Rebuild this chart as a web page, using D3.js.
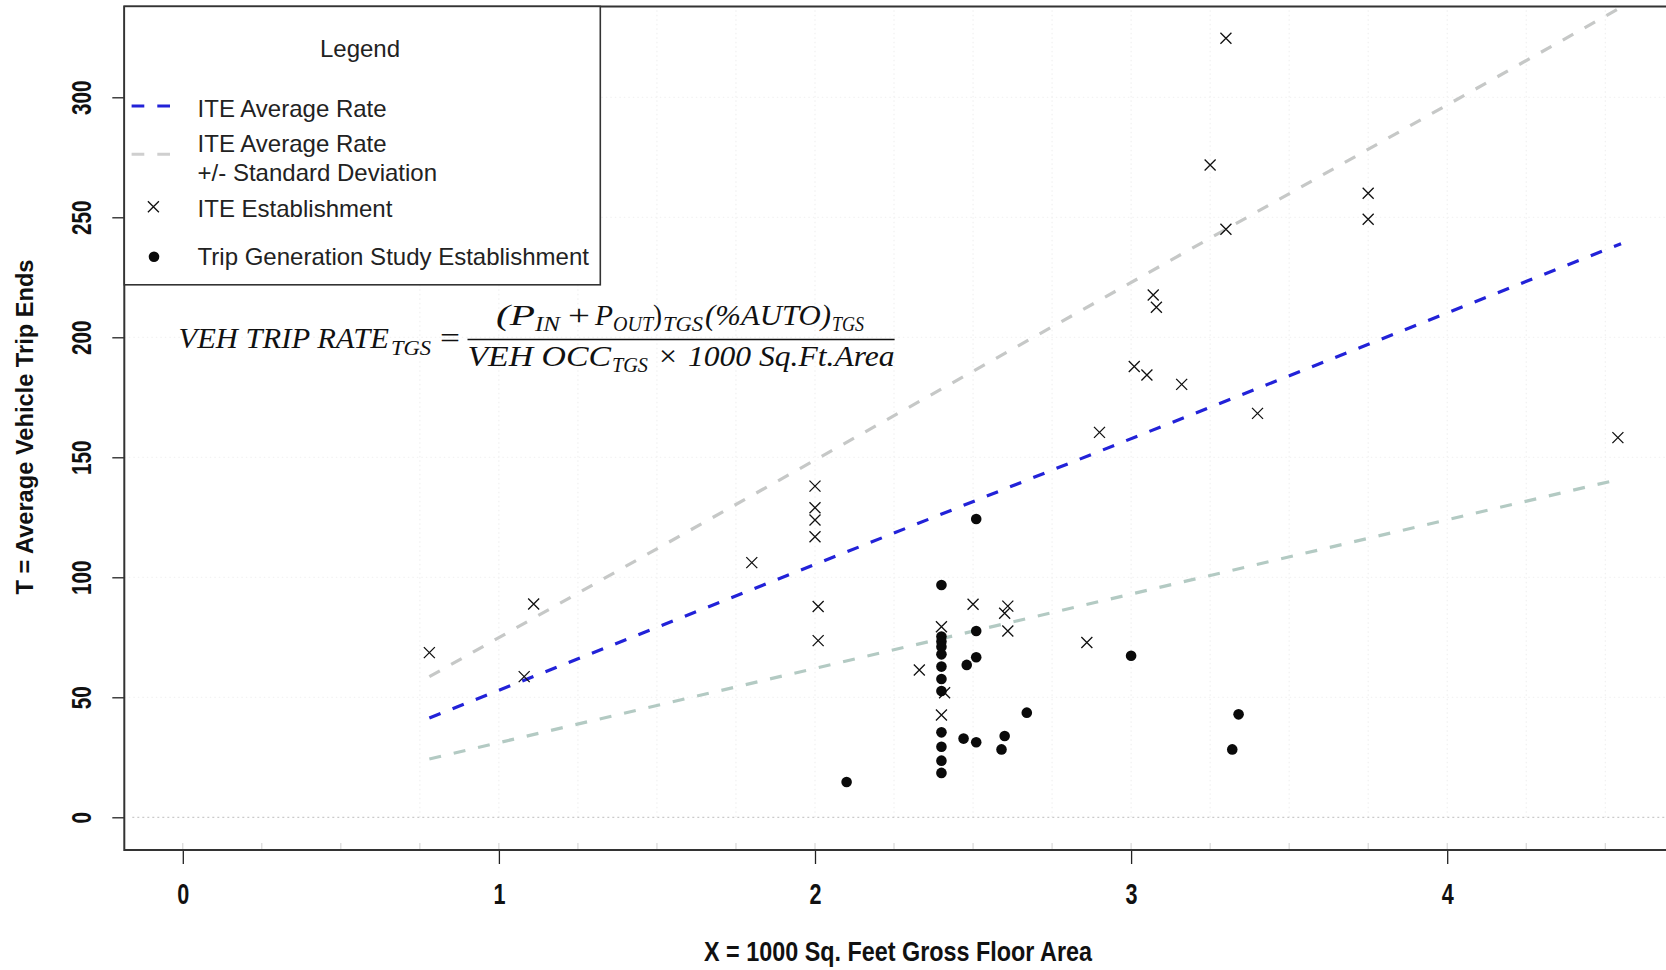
<!DOCTYPE html>
<html>
<head>
<meta charset="utf-8">
<script src="https://cdn.jsdelivr.net/npm/d3@7"></script>
<style>
  html, body { margin: 0; padding: 0; background: #fff; }
  svg { display: block; }
  text { font-family: "Liberation Sans", Arial, sans-serif; fill: #111; }
</style>
</head>
<body>
<svg id="chart"></svg>
<script>
// ITE establishments (x marks): area in 1000 sq ft, average vehicle trip ends
const iteArea  = [0.78, 1.08, 1.11, 1.80, 2.00, 2.00, 2.00, 2.00, 2.01, 2.01, 2.33, 2.40, 2.41, 2.40, 2.50, 2.61,
                  2.60, 2.61, 2.86, 2.90, 3.01, 3.05, 3.07, 3.08, 3.16, 3.25, 3.30, 3.30, 3.40, 3.75, 3.75, 4.54];
const iteTrips = [68.6, 58.6, 88.9, 106.1, 138.0, 129.0, 123.9, 116.9, 87.8, 73.6, 61.4, 79.4, 51.9, 42.6, 88.8, 88.0,
                  85.0, 77.6, 72.8, 160.4, 187.8, 184.3, 217.6, 212.5, 180.4, 271.8, 324.6, 245.0, 168.3, 260.0, 249.2, 158.2];

// Trip Generation Study establishments (filled dots)
const tgsArea  = [2.10, 2.40, 2.40, 2.40, 2.40, 2.40, 2.40, 2.40, 2.40, 2.40, 2.40, 2.40, 2.40,
                  2.51, 2.48, 2.51, 2.51, 2.67, 2.47, 2.51, 2.60, 2.59, 3.00, 3.34, 3.32];
const tgsTrips = [14.7, 96.8, 75.3, 73.2, 71.1, 67.9, 62.8, 57.6, 52.6, 35.4, 29.4, 23.6, 18.5,
                  124.3, 63.5, 66.7, 77.6, 43.6, 32.8, 31.3, 33.9, 28.3, 67.3, 42.9, 28.3];

// ITE average rate line and +/- standard deviation lines (ends)
const lineArea   = [0.78, 4.55];
const avgTrips   = [41.4, 239.0];
const upperTrips = [58.6, 337.5];
const lowerTrips = [24.3, 141.0];

const xTicks = [0, 1, 2, 3, 4];
const yTicks = [0, 50, 100, 150, 200, 250, 300];
const xMinorTicks = d3.range(0, 4.76, 0.25);
const yGrid = [50, 100, 150, 200, 250, 300];

const width = 1666, height = 970;
const plotLeft = 124.3, plotTop = 6.4, plotBottom = 850;

const svg = d3.select("#chart").attr("width", width).attr("height", height);

const x = d3.scaleLinear().domain([0, 4]).range([182.8, 1447.2]);
const y = d3.scaleLinear().domain([0, 300]).range([817.3, 97.3]);

svg.append("defs").append("clipPath").attr("id", "plotclip")
  .append("rect").attr("x", plotLeft).attr("y", plotTop)
  .attr("width", width - plotLeft).attr("height", plotBottom - plotTop);

// faint dotted grid
const grid = svg.append("g").attr("clip-path", "url(#plotclip)");
grid.selectAll(".vgrid")
  .data(xMinorTicks.filter(d => d > 0.5))
  .enter().append("line")
  .attr("x1", d => x(d)).attr("x2", d => x(d))
  .attr("y1", y(340)).attr("y2", y(0))
  .style("stroke", "#ededed").style("stroke-dasharray", "1.5,3");
grid.selectAll(".hgrid")
  .data(yGrid)
  .enter().append("line")
  .attr("x1", plotLeft).attr("x2", width)
  .attr("y1", d => y(d)).attr("y2", d => y(d))
  .style("stroke", "#f0f0f0").style("stroke-dasharray", "1.5,3");
grid.append("line")
  .attr("x1", plotLeft + 8).attr("x2", width)
  .attr("y1", y(0)).attr("y2", y(0))
  .style("stroke", "#bdbdbd").style("stroke-dasharray", "2,3");

// rate lines
const line = d3.line().x(d => x(d[0])).y(d => y(d[1]));
const rateLines = [
  { ys: upperTrips, color: "#c6c8c7" },
  { ys: lowerTrips, color: "#b3cac3" },
  { ys: avgTrips,   color: "#2222d8" }
];
svg.append("g").attr("clip-path", "url(#plotclip)")
  .selectAll("path")
  .data(rateLines)
  .enter().append("path")
  .attr("d", d => line(lineArea.map((a, i) => [a, d.ys[i]])))
  .style("fill", "none")
  .style("stroke", d => d.color)
  .style("stroke-width", 3.2)
  .style("stroke-dasharray", "12,13");

// ITE points (x marks)
const crossPath = s => `M${-s},${-s}L${s},${s}M${-s},${s}L${s},${-s}`;
svg.append("g").selectAll("path")
  .data(iteArea.map((a, i) => [a, iteTrips[i]]))
  .enter().append("path")
  .attr("transform", d => `translate(${x(d[0])},${y(d[1])})`)
  .attr("d", crossPath(5.5))
  .style("stroke", "#111").style("stroke-width", 1.3).style("fill", "none");

// TGS points (dots)
svg.append("g").selectAll("circle")
  .data(tgsArea.map((a, i) => [a, tgsTrips[i]]))
  .enter().append("circle")
  .attr("cx", d => x(d[0])).attr("cy", d => y(d[1]))
  .attr("r", 5.3)
  .style("fill", "#0a0a0a");

// condense a text node along its own direction
function condense(sel, k) {
  sel.each(function () {
    const len = this.getComputedTextLength();
    d3.select(this).attr("textLength", len * k).attr("lengthAdjust", "spacingAndGlyphs");
  });
}

// axes
const xAxis = svg.append("g")
  .attr("transform", `translate(0,${plotBottom})`)
  .call(d3.axisBottom(x).tickValues(xTicks).tickFormat(d3.format("d")).tickSize(14).tickSizeOuter(0).tickPadding(19));
xAxis.select(".domain").remove();
xAxis.selectAll(".tick line").style("stroke", "#222").style("stroke-width", 1.3);
xAxis.selectAll(".tick text")
  .style("font-size", "30px").style("font-weight", "bold").style("fill", "#111")
  .call(condense, 0.72);

const yAxis = svg.append("g")
  .attr("transform", `translate(${plotLeft},0)`)
  .call(d3.axisLeft(y).tickValues(yTicks).tickSize(12).tickSizeOuter(0));
yAxis.select(".domain").remove();
yAxis.selectAll(".tick line").style("stroke", "#222").style("stroke-width", 1.3);
yAxis.selectAll(".tick text")
  .attr("x", 0).attr("y", 0).attr("dy", null)
  .attr("text-anchor", "middle")
  .attr("transform", "translate(-33,0) rotate(-90)")
  .style("font-size", "28px").style("font-weight", "bold").style("fill", "#111")
  .call(condense, 0.74);

// minor ticks inside the bottom axis
svg.append("g").selectAll("line")
  .data(xMinorTicks)
  .enter().append("line")
  .attr("x1", d => x(d)).attr("x2", d => x(d))
  .attr("y1", plotBottom - 7).attr("y2", plotBottom)
  .style("stroke", "#d0d0d0").style("stroke-width", 1);

// frame (right side is cut off in the original)
svg.append("path")
  .attr("d", `M${width + 5},${plotTop}H${plotLeft}V${plotBottom}H${width + 5}`)
  .style("stroke", "#333").style("stroke-width", 2).style("fill", "none");

// axis titles
svg.append("text")
  .attr("x", 898).attr("y", 961)
  .attr("text-anchor", "middle")
  .attr("textLength", 388).attr("lengthAdjust", "spacingAndGlyphs")
  .style("font-size", "28px").style("font-weight", "bold")
  .text("X = 1000 Sq. Feet Gross Floor Area");

svg.append("text")
  .attr("transform", "translate(32.5,427) rotate(-90)")
  .attr("text-anchor", "middle")
  .attr("textLength", 335).attr("lengthAdjust", "spacingAndGlyphs")
  .style("font-size", "24px").style("font-weight", "bold")
  .text("T = Average Vehicle Trip Ends");

// legend
const legend = svg.append("g");
legend.append("rect")
  .attr("x", plotLeft).attr("y", plotTop).attr("width", 600.3 - plotLeft).attr("height", 284.8 - plotTop)
  .style("fill", "#fff").style("stroke", "#333").style("stroke-width", 1.6);
legend.append("text").attr("x", 360).attr("y", 56.7).attr("text-anchor", "middle")
  .style("font-size", "24px").style("fill", "#222").text("Legend");

const legendRows = [
  { lines: ["ITE Average Rate"], base: 116.7 },
  { lines: ["ITE Average Rate", "+/- Standard Deviation"], base: 151.7 },
  { lines: ["ITE Establishment"], base: 216.7 },
  { lines: ["Trip Generation Study Establishment"], base: 265 }
];
legendRows.forEach(r => {
  r.lines.forEach((t, j) => {
    legend.append("text").attr("x", 197.6).attr("y", r.base + j * 29.3)
      .style("font-size", "24px").style("fill", "#222").text(t);
  });
});
legend.append("line").attr("x1", 131.6).attr("x2", 170).attr("y1", 106).attr("y2", 106)
  .style("stroke", "#2222d8").style("stroke-width", 3).style("stroke-dasharray", "12.7,13");
legend.append("line").attr("x1", 131.6).attr("x2", 170).attr("y1", 154.3).attr("y2", 154.3)
  .style("stroke", "#cfcfcf").style("stroke-width", 3).style("stroke-dasharray", "12.7,13");
legend.append("path").attr("transform", "translate(153.4,206.7)").attr("d", crossPath(5.5))
  .style("stroke", "#111").style("stroke-width", 1.3).style("fill", "none");
legend.append("circle").attr("cx", 154).attr("cy", 256.7).attr("r", 5.3).style("fill", "#0a0a0a");

// trip rate formula
const formula = svg.append("g");
const serif = '"Liberation Serif", "DejaVu Serif", serif';
function piece(t, x0, x1, base, size, italic) {
  formula.append("text")
    .attr("x", x0).attr("y", base)
    .attr("textLength", x1 - x0).attr("lengthAdjust", "spacingAndGlyphs")
    .style("font-family", serif).style("font-size", size + "px")
    .style("font-style", italic ? "italic" : "normal").style("fill", "#111")
    .text(t);
}
piece("VEH TRIP RATE", 178.5, 389, 348, 29, true);
piece("TGS", 391, 431, 355, 20, true);
piece("=", 440, 460, 348, 29, false);
formula.append("line").attr("x1", 467.5).attr("x2", 894.6).attr("y1", 339.5).attr("y2", 339.5)
  .style("stroke", "#111").style("stroke-width", 1.6);
piece("(P", 496, 535, 325, 29, true);
piece("IN", 535, 560, 331, 20, true);
piece("+", 568, 590, 325, 29, false);
piece("P", 595, 613, 325, 29, true);
piece("OUT", 613, 653, 331, 20, true);
piece(")", 653, 662, 325, 29, false);
piece("TGS", 663, 703, 331, 20, true);
piece("(%AUTO)", 705, 831, 325, 29, true);
piece("TGS", 832, 864, 331, 20, true);
piece("VEH OCC", 467.5, 611, 366, 29, true);
piece("TGS", 612, 648, 372, 20, true);
piece("×", 659, 677, 366, 29, false);
piece("1000 Sq.Ft.Area", 688, 894.6, 366, 29, true);
</script>
</body>
</html>
